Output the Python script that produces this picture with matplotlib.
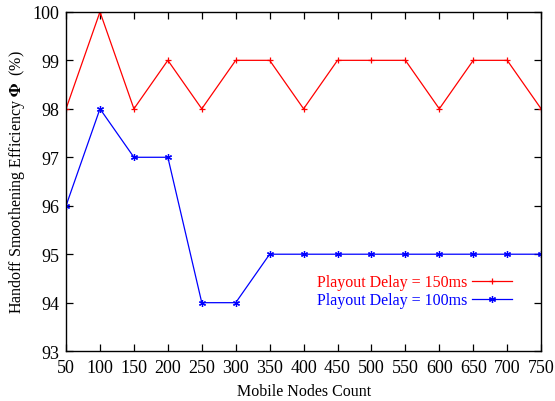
import numpy as np
import matplotlib.pyplot as plt

plt.rcParams['font.family'] = ['Liberation Serif', 'DejaVu Serif']
plt.rcParams['mathtext.fontset'] = 'stix'

nodes = [50, 100, 150, 200, 250, 300, 350, 400, 450, 500, 550, 600, 650, 700, 750]
delay150 = [98, 100, 98, 99, 98, 99, 99, 98, 99, 99, 99, 98, 99, 99, 98]
delay100 = [96, 98, 97, 97, 94, 94, 95, 95, 95, 95, 95, 95, 95, 95, 95]

fig = plt.figure(figsize=(5.55, 4.02), dpi=100)
ax = fig.add_axes([0.119, 0.124, 0.856, 0.844])

ax.plot(nodes, delay150, color='red', lw=0.9, marker='+', ms=5, mew=0.9,
        label='Playout Delay = 150ms')
ax.plot(nodes, delay100, color='blue', lw=0.9, marker=(6, 2, 0), ms=5, mew=0.9,
        label='Playout Delay = 100ms')

ax.set_xlim(50, 750)
ax.set_ylim(93, 100)
ax.set_xticks(nodes)
ax.set_yticks(range(93, 101))
ax.tick_params(direction='in', top=True, right=True, labelsize=13, length=5, width=0.9)
ax.tick_params(axis='x', pad=6)
ax.tick_params(axis='y', pad=5)
for s in ax.spines.values():
    s.set_linewidth(1.0)

ax.set_xlabel('Mobile Nodes Count', fontsize=11.5, labelpad=5)
ax.set_ylabel(r'Handoff Smoothening Efficiency $\mathbf{\Phi}$  (%)', fontsize=11.5, labelpad=4)

leg = ax.legend(loc='upper right', bbox_to_anchor=(0.955, 0.25), frameon=False,
                markerfirst=False, fontsize=11.5, handlelength=2.5, labelspacing=0.12,
                handletextpad=0.3, borderpad=0)
for t, c in zip(leg.get_texts(), ['red', 'blue']):
    t.set_color(c)

fig.savefig('out.png', dpi=100)
